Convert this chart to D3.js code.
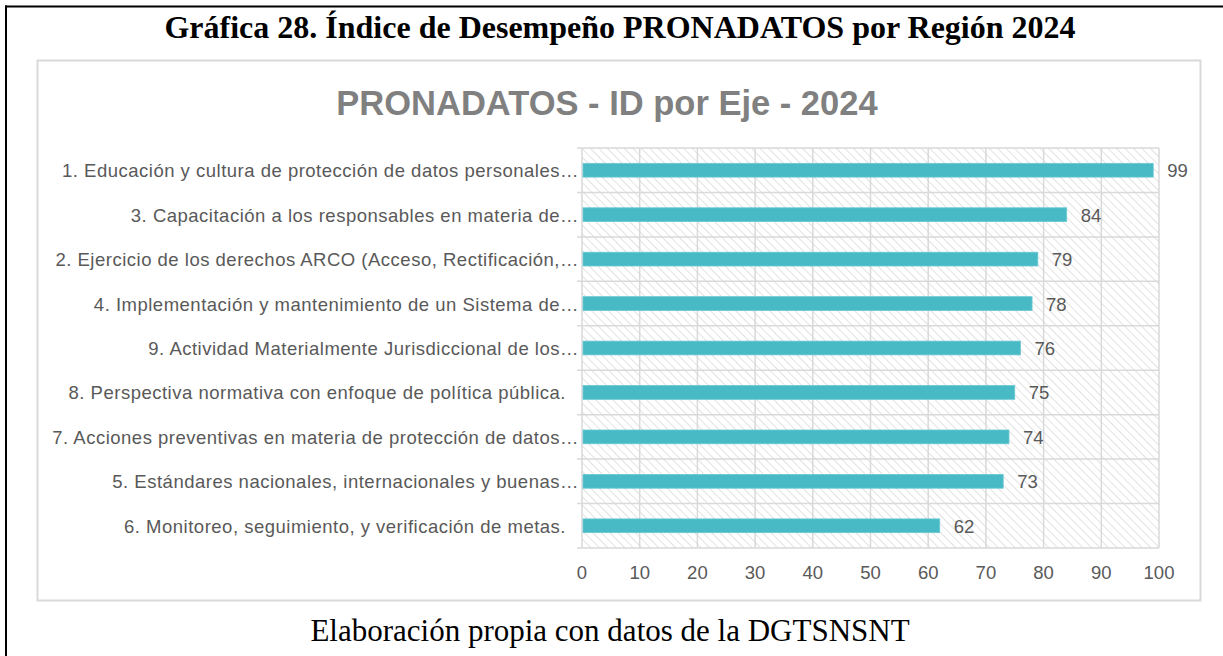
<!DOCTYPE html>
<html>
<head>
<meta charset="utf-8">
<script src="https://cdn.jsdelivr.net/npm/d3@7"></script>
<style>
    body { margin: 0; background: #ffffff; }
    svg { display: block; }
</style>
</head>
<body>
<div id="chart"></div>
<script>
// data
let categories = [
    "1. Educación y cultura de protección de datos personales…",
    "3. Capacitación a los responsables en materia de…",
    "2. Ejercicio de los derechos ARCO (Acceso, Rectificación,…",
    "4. Implementación y mantenimiento de un Sistema de…",
    "9. Actividad Materialmente Jurisdiccional de los…",
    "8. Perspectiva normativa con enfoque de política pública.",
    "7. Acciones preventivas en materia de protección de datos…",
    "5. Estándares nacionales, internacionales y buenas…",
    "6. Monitoreo, seguimiento, y verificación de metas."
];
let values = [99, 84, 79, 78, 76, 75, 74, 73, 62];
let xTicks = [0, 10, 20, 30, 40, 50, 60, 70, 80, 90, 100];

let pageTitle = "Gráfica 28. Índice de Desempeño PRONADATOS por Región 2024";
let chartTitle = "PRONADATOS - ID por Eje - 2024";
let footer = "Elaboración propia con datos de la DGTSNSNT";

let width = 1223, height = 656;
let plot = {left: 582, right: 1159, top: 148, bottom: 548};
let axisFont = "'Liberation Sans', Arial, sans-serif";

let svg = d3.select("#chart").append("svg")
    .attr("width", width)
    .attr("height", height);

// hatch pattern for the plot background ("\" direction)
let defs = svg.append("defs");
defs.append("pattern")
    .attr("id", "hatch")
    .attr("patternUnits", "userSpaceOnUse")
    .attr("width", 6)
    .attr("height", 6)
    .attr("patternTransform", "rotate(-45)")
    .append("line")
    .attr("x1", 0).attr("y1", 0)
    .attr("x2", 0).attr("y2", 6)
    .attr("stroke", "#c6c6c6")
    .attr("stroke-width", 1);

// outer frame (document table border)
svg.append("line")
    .attr("x1", 5).attr("x2", width).attr("y1", 6.5).attr("y2", 6.5)
    .attr("stroke", "#000").attr("stroke-width", 2);
svg.append("line")
    .attr("x1", 6).attr("x2", 6).attr("y1", 5.5).attr("y2", height)
    .attr("stroke", "#000").attr("stroke-width", 2);

svg.append("text")
    .attr("x", 620)
    .attr("y", 38)
    .attr("text-anchor", "middle")
    .style("font-family", "'Liberation Serif', 'Times New Roman', serif")
    .style("font-weight", "bold")
    .style("font-size", "32px")
    .attr("fill", "#000")
    .text(pageTitle);

// chart box
svg.append("rect")
    .attr("x", 37.5).attr("y", 60.5)
    .attr("width", 1163).attr("height", 540)
    .attr("fill", "#fff")
    .attr("stroke", "#d9d9d9")
    .attr("stroke-width", 2);

svg.append("text")
    .attr("x", 607)
    .attr("y", 115)
    .attr("text-anchor", "middle")
    .style("font-family", axisFont)
    .style("font-weight", "bold")
    .style("font-size", "34.5px")
    .attr("fill", "#808080")
    .text(chartTitle);

// scales
let x = d3.scaleLinear()
    .domain([0, 100])
    .range([plot.left, plot.right]);

let y = d3.scaleBand()
    .domain(categories)
    .range([plot.top, plot.bottom])
    .paddingInner(0.69)
    .paddingOuter(0.345);

let band = d3.scaleBand()
    .domain(categories)
    .range([plot.top, plot.bottom]);

// hatched plot area
svg.append("rect")
    .attr("x", plot.left).attr("y", plot.top)
    .attr("width", plot.right - plot.left)
    .attr("height", plot.bottom - plot.top)
    .attr("fill", "url(#hatch)");

// vertical gridlines
svg.append("g")
    .selectAll("line")
    .data(xTicks)
    .enter()
    .append("line")
    .attr("x1", d => x(d)).attr("x2", d => x(d))
    .attr("y1", plot.top).attr("y2", plot.bottom)
    .attr("stroke", "#d9d9d9")
    .attr("stroke-width", 1.5);

// category separators (with small tick out to the left)
let seps = categories.map(c => band(c)).concat([plot.bottom]);
svg.append("g")
    .selectAll("line")
    .data(seps)
    .enter()
    .append("line")
    .attr("x1", plot.left - 5).attr("x2", plot.right)
    .attr("y1", d => d).attr("y2", d => d)
    .attr("stroke", "#d9d9d9")
    .attr("stroke-width", 1.5);

// bars
svg.append("g")
    .selectAll("rect")
    .data(values)
    .enter()
    .append("rect")
    .attr("x", x(0) + 1)
    .attr("y", (d, i) => y(categories[i]))
    .attr("width", d => x(d) - x(0) - 1)
    .attr("height", y.bandwidth())
    .attr("fill", "#48bac6")
    .attr("stroke", "#6cc9d2")
    .attr("stroke-width", 0.8);

// value labels
svg.append("g")
    .selectAll("text")
    .data(values)
    .enter()
    .append("text")
    .attr("x", d => x(d) + 14)
    .attr("y", (d, i) => y(categories[i]) + y.bandwidth() / 2 + 7)
    .style("font-family", axisFont)
    .style("font-size", "18.5px")
    .attr("fill", "#595959")
    .text(d => d);

// category labels
svg.append("g")
    .selectAll("text")
    .data(categories)
    .enter()
    .append("text")
    .attr("x", d => d.endsWith("…") ? plot.left - 3 : plot.left - 16)
    .attr("y", d => band(d) + band.bandwidth() / 2 + 7)
    .attr("text-anchor", "end")
    .style("font-family", axisFont)
    .style("font-size", "18.5px")
    .style("letter-spacing", "0.5px")
    .attr("fill", "#595959")
    .text(d => d);

// x tick labels
svg.append("g")
    .selectAll("text")
    .data(xTicks)
    .enter()
    .append("text")
    .attr("x", d => x(d))
    .attr("y", 579)
    .attr("text-anchor", "middle")
    .style("font-family", axisFont)
    .style("font-size", "18.5px")
    .attr("fill", "#595959")
    .text(d => d);

svg.append("text")
    .attr("x", 610)
    .attr("y", 641)
    .attr("text-anchor", "middle")
    .style("font-family", "'Liberation Serif', 'Times New Roman', serif")
    .style("font-size", "31px")
    .attr("fill", "#000")
    .text(footer);
</script>
</body>
</html>
